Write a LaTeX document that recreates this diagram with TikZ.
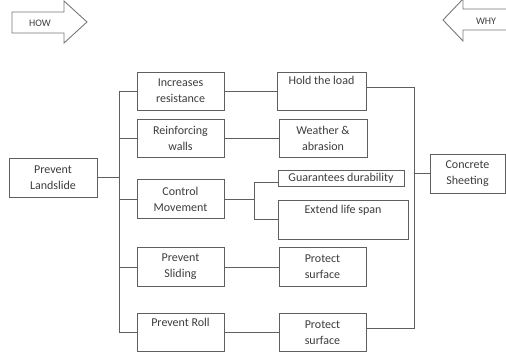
\documentclass[tikz,border=0pt]{standalone}
\usepackage{fontspec}
\setmainfont{Carlito}
\definecolor{linecol}{RGB}{95,95,95}
\definecolor{textcol}{RGB}{60,60,60}
\definecolor{arrcol}{RGB}{120,120,120}
\begin{document}
\begin{tikzpicture}[x=1pt,y=-1pt,
  box/.style={draw=linecol, line width=0.9pt, text=textcol, align=center, inner sep=0pt,
    font=\fontsize{12}{16}\selectfont},
  conn/.style={draw=linecol, line width=0.9pt},
  arr/.style={draw=arrcol, line width=0.9pt, line join=miter},
  arrtext/.style={text=textcol, font=\fontsize{10}{12}\selectfont, inner sep=0pt}]
\useasboundingbox (0,0) rectangle (506,352);
% HOW / WHY arrows
\draw[arr] (12,12) -- (64,12) -- (64,1) -- (87,22) -- (64,43) -- (64,33) -- (12,33) -- cycle;
\node[arrtext] (how) at (40,23) {HOW};
\draw[arr] (512,9) -- (463,9) -- (463,-1) -- (443,20) -- (463,41) -- (463,30) -- (512,30);
\node[arrtext] (why) at (486,21) {WHY};
% boxes
\node[box, minimum width=88pt, minimum height=39pt] (land) at (53,177.5) {Prevent\\Landslide};
\node[box, minimum width=87pt, minimum height=38pt] (inc) at (180.5,91) {Increases\\resistance};
\node[box, minimum width=87pt, minimum height=38pt] (rein) at (180.5,138.5) {Reinforcing\\walls};
\node[box, minimum width=87pt, minimum height=39pt] (ctrl) at (180.5,199) {Control\\Movement};
\node[box, minimum width=87pt, minimum height=39pt] (slid) at (180.5,267) {Prevent\\Sliding};
\node[box, minimum width=87pt, minimum height=38pt] (roll) at (180.5,332.5) {Prevent Roll\\\strut};
\node[box, minimum width=89pt, minimum height=38pt] (hold) at (321.5,91) {Hold the load\\\strut};
\node[box, minimum width=88pt, minimum height=38pt] (weat) at (323,138.5) {Weather \&\\abrasion};
\node[box, minimum width=126pt, minimum height=16pt] (guar) at (341,178) {Guarantees durability};
\node[box, minimum width=130pt, minimum height=39pt] (ext) at (343,219.5) {Extend life span\\\strut};
\node[box, minimum width=87pt, minimum height=39pt] (prot1) at (322.5,267) {Protect\\surface};
\node[box, minimum width=87pt, minimum height=38pt] (prot2) at (322.5,332.5) {Protect\\surface};
\node[box, minimum width=75pt, minimum height=39pt] (conc) at (467.5,173.5) {Concrete\\Sheeting};
% trunk on the left
\coordinate (tr) at (119,0);
\draw[conn] (land.east) -- (land.east -| tr);
\draw[conn] (inc.west) -- (inc.west -| tr) -- (roll.west -| tr) -- (roll.west);
\draw[conn] (rein.west) -- (rein.west -| tr);
\draw[conn] (ctrl.west) -- (ctrl.west -| tr);
\draw[conn] (slid.west) -- (slid.west -| tr);
% level 2 to level 3
\draw[conn] (inc.east) -- (hold.west);
\draw[conn] (rein.east) -- (weat.west);
\draw[conn] (slid.east) -- (prot1.west);
\draw[conn] (roll.east) -- (prot2.west);
\coordinate (cm) at (254,0);
\draw[conn] (ctrl.east) -- (ctrl.east -| cm);
\draw[conn] ([yshift=-4pt]guar.west) -- ([yshift=-4pt]guar.west -| cm) -- (ext.west -| cm) -- (ext.west);
% right bracket
\coordinate (rb) at (414,0);
\draw[conn] ([yshift=4pt]hold.east) -- ([yshift=4pt]hold.east -| rb) -- ([yshift=4pt]prot2.east -| rb) -- ([yshift=4pt]prot2.east);
\draw[conn] (conc.west) -- (conc.west -| rb);
\end{tikzpicture}
\end{document}
